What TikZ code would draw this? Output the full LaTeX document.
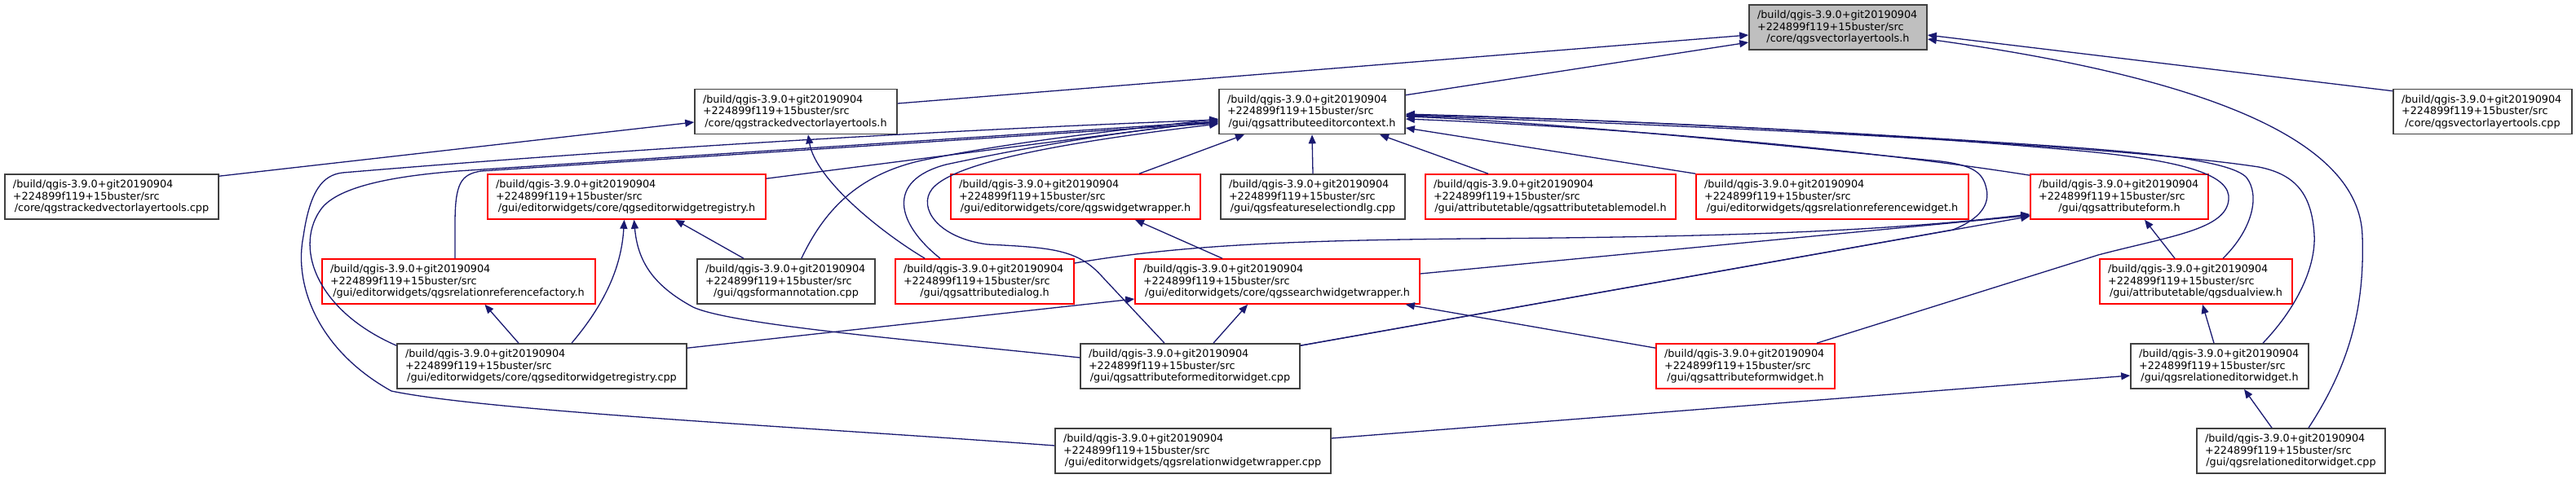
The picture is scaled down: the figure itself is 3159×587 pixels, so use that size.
\documentclass[tikz,border=0pt]{standalone}
\usepackage{fontspec}
\setmainfont{DejaVu Sans}
\usetikzlibrary{calc,arrows.meta}
\definecolor{edgeblue}{HTML}{191970}
\definecolor{boxgray}{HTML}{404040}
\definecolor{fillgray}{HTML}{BFBFBF}
\definecolor{boxred}{HTML}{FF0000}
\newcommand{\qgsfile}[1]{\parindent=0pt{\raggedright /build/qgis-3.9.0+git20190904\\+224899f119+15buster/src\par}{\centering #1\par}}
\tikzset{
  filebox/.style = {draw = boxgray, line width = 1.6pt, fill = white, inner xsep = 10pt, inner ysep = 0pt,
    minimum height = 55pt, text width = #1, font = \fontsize{12.8pt}{14.5pt}\selectfont},
  redbox/.style = {filebox = #1, draw = boxred},
  graybox/.style = {filebox = #1, fill = fillgray},
  incl/.style = {draw = edgeblue, line width = 1.3pt, -{Triangle[length = 11pt, width = 9pt]}}
}
\begin{document}
\begin{tikzpicture}[x = 1pt, y = -1pt]
    \useasboundingbox(0,0)rectangle(3159,587);
    % row 1
    \node[graybox = 198](A)at(2254,33.5){\qgsfile{/core/qgsvectorlayertools.h}};
    % row 2
    \node[filebox = 228](B)at(976,137){\qgsfile{/core/qgstrackedvectorlayertools.h}};
    \node[filebox = 208](C)at(1609,137){\qgsfile{/gui/qgsattributeeditorcontext.h}};
    \node[filebox = 199](D)at(3044.5,137){\qgsfile{/core/qgsvectorlayertools.cpp}};
    % row 3
    \node[filebox = 242](TCPP)at(137,241.5){\qgsfile{/core/qgstrackedvectorlayertools.cpp}};
    \node[redbox = 321](EWR)at(768.5,241.5){\qgsfile{/gui/editorwidgets/core/qgseditorwidgetregistry.h}};
    \node[redbox = 286](WW)at(1319,241.5){\qgsfile{/gui/editorwidgets/core/qgswidgetwrapper.h}};
    \node[filebox = 206](FSD)at(1610,241.5){\qgsfile{/gui/qgsfeatureselectiondlg.cpp}};
    \node[redbox = 287](ATM)at(1901.5,241.5){\qgsfile{/gui/attributetable/qgsattributetablemodel.h}};
    \node[redbox = 314](RRW)at(2247,241.5){\qgsfile{/gui/editorwidgets/qgsrelationreferencewidget.h}};
    \node[redbox = 198](AF)at(2599,241.5){\qgsfile{/gui/qgsattributeform.h}};
    % row 4
    \node[redbox = 315](RRF)at(562.5,345.5){\qgsfile{/gui/editorwidgets/qgsrelationreferencefactory.h}};
    \node[filebox = 198](FA)at(964,345.5){\qgsfile{/gui/qgsformannotation.cpp}};
    \node[redbox = 199](ADLG)at(1207.5,345.5){\qgsfile{/gui/qgsattributedialog.h}};
    \node[redbox = 329](SWW)at(1566.5,345.5){\qgsfile{/gui/editorwidgets/core/qgssearchwidgetwrapper.h}};
    \node[redbox = 216](DV)at(2693,345.5){\qgsfile{/gui/attributetable/qgsdualview.h}};
    % row 5
    \node[filebox = 335](EWRcpp)at(664.5,449.5){\qgsfile{/gui/editorwidgets/core/qgseditorwidgetregistry.cpp}};
    \node[filebox = 249](AFEW)at(1459.5,449.5){\qgsfile{/gui/qgsattributeformeditorwidget.cpp}};
    \node[redbox = 199](AFW)at(2140.5,449.5){\qgsfile{/gui/qgsattributeformwidget.h}};
    \node[filebox = 198](REW)at(2722,449.5){\qgsfile{/gui/qgsrelationeditorwidget.h}};
    % row 6
    \node[filebox = 318](RWW)at(1463,553.5){\qgsfile{/gui/editorwidgets/qgsrelationwidgetwrapper.cpp}};
    \node[filebox = 211](REWcpp)at(2809.5,553.5){\qgsfile{/gui/qgsrelationeditorwidget.cpp}};
    % includes of qgsvectorlayertools.h
    \path[incl]($(B.east)+(0,-10)$)to($(A.west)+(0,9.5)$);
    \path[incl]($(C.north east)+(0,8)$)to($(A.west)+(0,18.5)$);
    \path[incl]($(D.north west)+(0,3)$)to($(A.east)+(0,9.5)$);
    \path[incl]($(REWcpp.north)+(21.5,0)$) .. controls (2880,450) and (2900,380) .. (2897,290)
        .. controls (2894,170) and (2700,95) .. ($(A.east)+(0,14.5)$);
    % includes of qgstrackedvectorlayertools.h
    \path[incl]($(TCPP.north east)+(0,3)$)to($(B.west)+(0,13)$);
    \path[incl]($(ADLG.north west)+(37,0)$) .. controls (1080,285) and (1000,220) .. ($(B.south)+(15,0)$);
    % includes of qgsattributeeditorcontext.h, left side
    \path[incl]($(EWR.north east)+(0,6)$)to($(C.west)+(0,11)$);
    \path[incl]($(EWRcpp.north west)+(0,3)$) .. controls (385,380) and (360,300) .. (395,255)
        .. controls (420,225) and (500,215) .. (561,210) -- ($(C.west)+(0,12)$);
    \path[incl]($(RRF.north)+(-4.5,0)$) -- (558,275) .. controls (558,225) and (565,214) .. (590,210) -- ($(C.west)+(0,14)$);
    \path[incl]($(RWW.west)+(0,-6.5)$) .. controls (1000,525) and (600,505) .. (480,480)
        .. controls (390,430) and (360,350) .. (372,290) .. controls (380,235) and (395,215) .. (420,212)
        .. controls (800,180) and (1200,158) .. ($(C.west)+(0,10)$);
    \path[incl]($(FA.north east)+(-91,0)$) .. controls (1010,260) and (1050,215) .. (1130,197)
        .. controls (1250,172) and (1400,157) .. ($(C.west)+(0,9)$);
    \path[incl]($(ADLG.north)+(-54.5,0)$) .. controls (1100,275) and (1085,222) .. (1160,202)
        .. controls (1300,172) and (1420,156) .. ($(C.west)+(0,13)$);
    \path[incl]($(AFEW.north)+(-31.5,0)$) -- (1352,340) .. controls (1322,306) and (1290,304) .. (1211,300)
        .. controls (1150,292) and (1125,255) .. (1143,232) .. controls (1165,205) and (1260,180) .. ($(C.west)+(0,15)$);
    % includes of qgsattributeeditorcontext.h, below
    \path[incl]($(WW.north)+(78,0)$)to($(C.south)+(-83,0)$);
    \path[incl](FSD.north)to(C.south);
    \path[incl]($(ATM.north)+(-76.5,0)$)to($(C.south)+(83,0)$);
    % includes of qgsattributeeditorcontext.h, right side
    \path[incl](RRW.north west)to($(C.east)+(0,20)$);
    \path[incl]($(AF.north west)+(0,2)$) .. controls (2300,185) and (2000,157) .. ($(C.east)+(0,9)$);
    \path[incl]($(AFW.north)+(87.5,0)$) -- (2573,313) .. controls (2660,290) and (2730,282) .. (2733,245)
        .. controls (2736,215) and (2680,198) .. (2560,186) .. controls (2300,162) and (2000,148) .. ($(C.east)+(0,3)$);
    \path[incl]($(DV.north)+(33,0)$) .. controls (2762,282) and (2772,240) .. (2755,218)
        .. controls (2735,196) and (2620,186) .. (2500,178) .. controls (2200,158) and (1950,146) .. ($(C.east)+(0,4)$);
    \path[incl]($(REW.north)+(53,0)$) .. controls (2822,372) and (2840,322) .. (2838,288)
        .. controls (2835,238) and (2815,214) .. (2770,205) .. controls (2620,182) and (2200,158) .. ($(C.east)+(0,5)$);
    \path[incl]($(AFEW.north east)+(0,3)$) -- (2395,282) .. controls (2430,268) and (2440,250) .. (2436,232)
        .. controls (2432,212) and (2420,203) .. (2380,198) .. controls (2150,175) and (1900,150) .. ($(C.east)+(0,6)$);
    % includes of qgseditorwidgetregistry.h
    \path[incl]($(FA.north)+(-52,0)$)to($(EWR.south)+(59.5,0)$);
    \path[incl]($(EWRcpp.north)+(36.5,0)$) .. controls (740,375) and (762,330) .. ($(EWR.south)+(-3,0)$);
    \path[incl]($(AFEW.west)+(0,-10.5)$) .. controls (1150,420) and (900,400) .. (850,377)
        .. controls (800,350) and (782,320) .. ($(EWR.south)+(9,0)$);
    % relation reference factory, search widget wrapper
    \path[incl]($(EWRcpp.north)+(-28.5,0)$)to($(RRF.south)+(32,0)$);
    \path[incl]($(EWRcpp.north east)+(0,6)$)to($(SWW.west)+(0,21.5)$);
    \path[incl]($(AFEW.north)+(28.5,0)$)to($(SWW.south)+(-36.5,0)$);
    \path[incl]($(AFW.north west)+(0,6)$)to($(SWW.south east)+(-18,0)$);
    \path[incl]($(SWW.north)+(-67.5,0)$)to($(WW.south)+(73,0)$);
    % includes of qgsattributeform.h
    \path[incl]($(DV.north)+(-26,0)$)to($(AF.south)+(31,0)$);
    \path[incl]($(ADLG.east)+(0,-22.5)$) .. controls (1450,300) and (1600,295) .. (1800,293)
        .. controls (2100,291) and (2300,285) .. ($(AF.west)+(0,21.5)$);
    \path[incl]($(SWW.east)+(0,-9.5)$)to($(AF.west)+(0,23)$);
    \path[incl]($(AFEW.north east)+(0,3)$)to($(AF.west)+(0,24)$);
    % dual view, relation editor widget
    \path[incl]($(REW.north)+(-7,0)$)to($(DV.south)+(8,0)$);
    \path[incl]($(RWW.east)+(0,-15.5)$)to($(REW.west)+(0,11.5)$);
    \path[incl]($(REWcpp.north)+(-23.5,0)$)to($(REW.south)+(30,0)$);
\end{tikzpicture}
\end{document}
